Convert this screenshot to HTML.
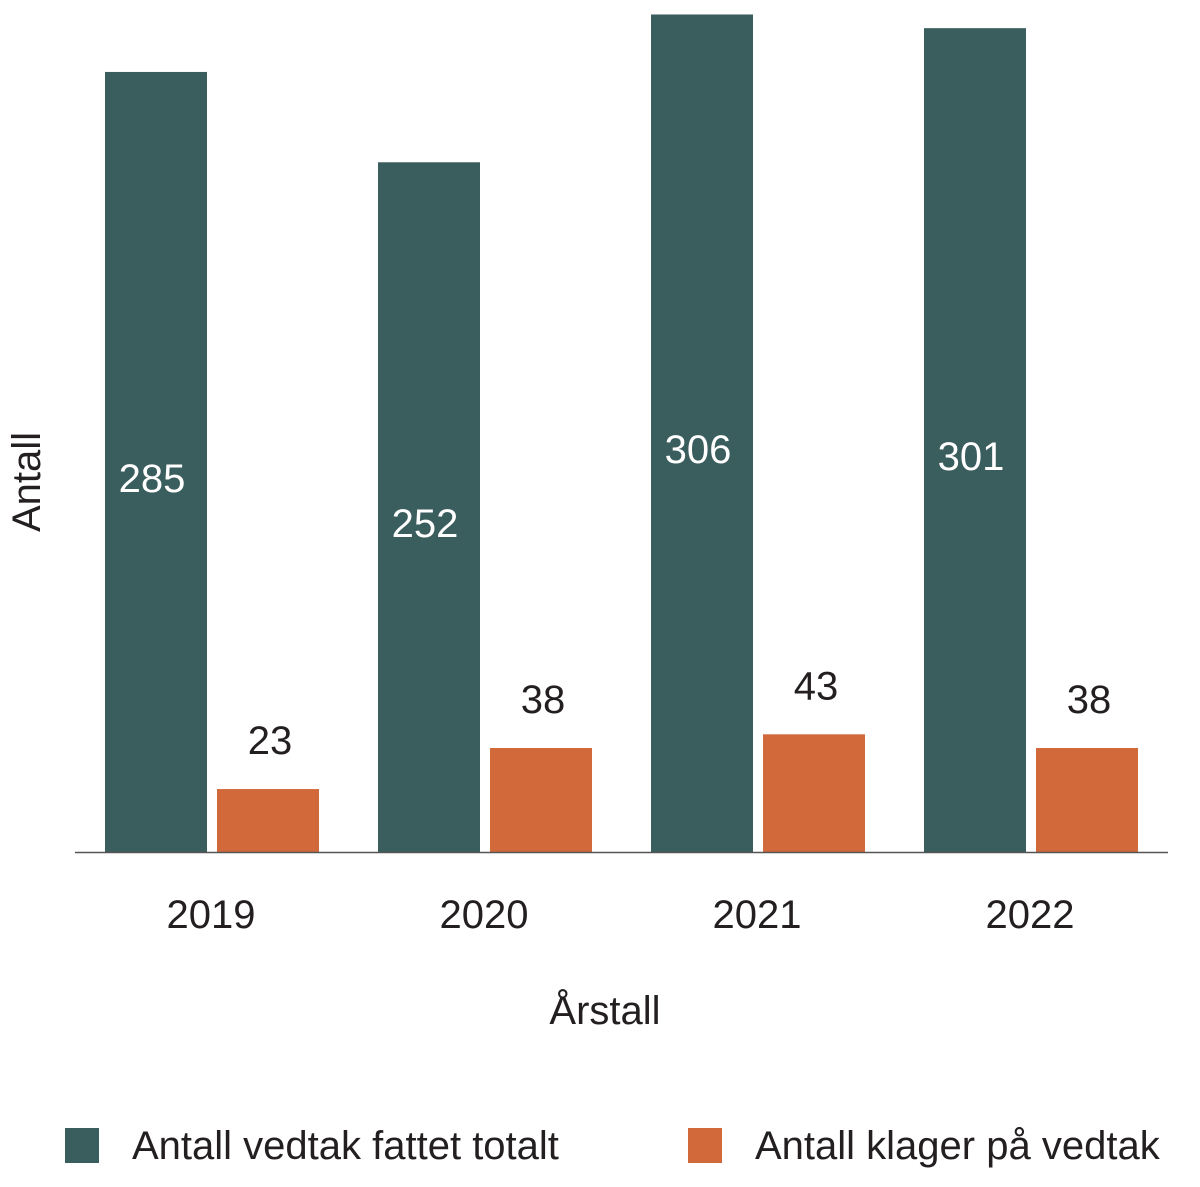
<!DOCTYPE html>
<html><head><meta charset="utf-8"><style>
html,body{margin:0;padding:0;background:#fff;}
svg{display:block;font-family:"Liberation Sans",sans-serif;}
</style></head><body>
<svg id="chart" width="1200" height="1187" viewBox="0 0 1200 1187">
<g id="bars"></g>
<line x1="75" y1="852.5" x2="1168" y2="852.5" stroke="#555" stroke-width="1.5"/>
<text x="605" y="1024" font-size="40" text-anchor="middle" fill="#231f20">Årstall</text>
<text transform="translate(40,482) rotate(-90)" font-size="40" text-anchor="middle" fill="#231f20">Antall</text>
<g>
<rect x="65" y="1128" width="34" height="35" fill="#3a5d5e"/>
<text x="132" y="1159" font-size="40" fill="#231f20">Antall vedtak fattet totalt</text>
<rect x="688" y="1128" width="34" height="35" fill="#d2693a"/>
<text x="755" y="1159" font-size="40" fill="#231f20">Antall klager på vedtak</text>
</g>
</svg>
<script>
const categories = ["2019","2020","2021","2022"];
const totalValues = [285,252,306,301];
const klagerValues = [23,38,43,38];
const NS = "http://www.w3.org/2000/svg";
const baseY = 852, scale = 2.737;
const yPos = v => baseY - v*scale;
const groupX = i => 105 + i*273;
const barW = 102;
const g = document.getElementById('bars');
function mk(tag, attrs){const e=document.createElementNS(NS,tag);for(const k in attrs)e.setAttribute(k,attrs[k]);return e;}
categories.forEach((c,i)=>{
  const x0 = groupX(i);
  const t = totalValues[i], k = klagerValues[i];
  const r1 = mk('rect',{x:x0,y:yPos(t),width:barW,height:baseY-yPos(t),fill:'#3a5d5e'});
  
  
  g.appendChild(r1);
  const l1 = mk('text',{x:x0+barW/2-4,y:(yPos(t)+baseY)/2+30,'font-size':40,'text-anchor':'middle',fill:'#fff'});
  l1.textContent = t;
  
  
  g.appendChild(l1);
  const x1 = x0 + 112;
  const r2 = mk('rect',{x:x1,y:yPos(k),width:barW,height:baseY-yPos(k),fill:'#d2693a'});
  
  
  g.appendChild(r2);
  const l2 = mk('text',{x:x1+barW/2+2,y:yPos(k)-35,'font-size':40,'text-anchor':'middle',fill:'#231f20'});
  l2.textContent = k;
  
  
  g.appendChild(l2);
  const xl = mk('text',{x:x0+106,y:928,'font-size':40,'text-anchor':'middle',fill:'#231f20'});
  xl.textContent = c;
  
  
  g.appendChild(xl);
});
</script>
</body></html>
